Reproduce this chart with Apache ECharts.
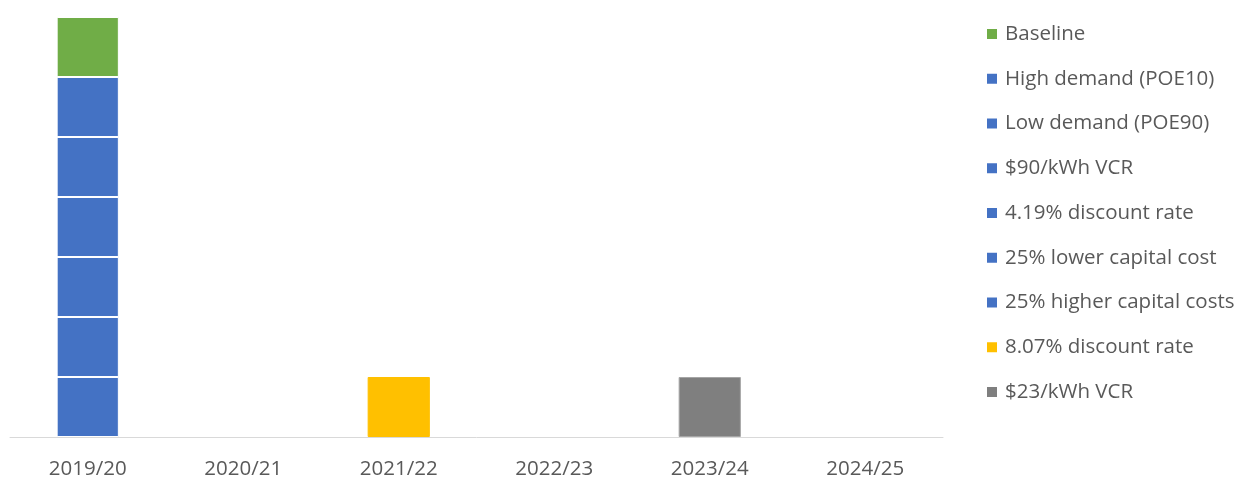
<!DOCTYPE html>
<html>
<head>
<meta charset="utf-8">
<script src="https://cdn.jsdelivr.net/npm/echarts@6/dist/echarts.min.js"></script>
<style>
  html, body { margin: 0; padding: 0; background: #fff; }
  #chart { width: 1240px; height: 478px; }
</style>
</head>
<body>
<div id="chart"></div>
<script>
// Categories (financial years)
const categories = ['2019/20', '2020/21', '2021/22', '2022/23', '2023/24', '2024/25'];

// Scenario names, in legend order (top of stack first)
const scenarioNames = [
  'Baseline',
  'High demand (POE10)',
  'Low demand (POE90)',
  '$90/kWh VCR',
  '4.19% discount rate',
  '25% lower capital cost',
  '25% higher capital costs',
  '8.07% discount rate',
  '$23/kWh VCR'
];

// Values per scenario, one per category
const baseline        = [1, 0, 0, 0, 0, 0];
const highDemand      = [1, 0, 0, 0, 0, 0];
const lowDemand       = [1, 0, 0, 0, 0, 0];
const vcr90           = [1, 0, 0, 0, 0, 0];
const discount419     = [1, 0, 0, 0, 0, 0];
const lowerCapital    = [1, 0, 0, 0, 0, 0];
const higherCapital   = [1, 0, 0, 0, 0, 0];
const discount807     = [0, 0, 1, 0, 0, 0];
const vcr23           = [0, 0, 0, 0, 1, 0];

const seriesValues = [baseline, highDemand, lowDemand, vcr90, discount419,
                      lowerCapital, higherCapital, discount807, vcr23];

const colors = ['#70ad47', '#4472c4', '#4472c4', '#4472c4', '#4472c4',
                '#4472c4', '#4472c4', '#ffc000', '#7f7f7f'];
const borders = ['#ffffff', '#ffffff', '#ffffff', '#ffffff', '#ffffff',
                 '#ffffff', '#ffffff', '#ffc000', '#a5a5a5'];

// Stack is built bottom-up, so series are added in reverse legend order
const series = [];
for (let i = scenarioNames.length - 1; i >= 0; i--) {
  series.push({
    name: scenarioNames[i],
    type: 'bar',
    stack: 'total',
    barWidth: '40%',
    data: seriesValues[i].map(v => (v === 0 ? null : v)),
    itemStyle: { color: colors[i], borderColor: borders[i], borderWidth: 1 }
  });
}

const chart = echarts.init(document.getElementById('chart'), null, { renderer: 'canvas' });
chart.setOption({
  animation: false,
  backgroundColor: '#ffffff',
  textStyle: { fontFamily: 'Open Sans, Liberation Sans, sans-serif' },
  grid: { left: 10, right: 297, top: 17, bottom: 41, containLabel: false, outerBoundsMode: 'none' },
  legend: {
    orient: 'vertical',
    left: 987,
    top: 22,
    padding: 0,
    itemWidth: 10,
    itemHeight: 10,
    itemGap: 20.75,
    icon: 'rect',
    data: scenarioNames.map(n => ({ name: n, itemStyle: { borderWidth: 0 } })),
    textStyle: { color: '#595959', fontSize: 20.5, lineHeight: 24, padding: [0, 0, 0, 3] }
  },
  xAxis: {
    type: 'category',
    data: categories,
    axisLine: { lineStyle: { color: '#d9d9d9', width: 1 } },
    axisTick: { show: false },
    axisLabel: { color: '#595959', fontSize: 20.5, margin: 22 }
  },
  yAxis: {
    type: 'value',
    min: 0,
    max: 7,
    show: false,
    splitLine: { show: false }
  },
  series: series
});
</script>
</body>
</html>
